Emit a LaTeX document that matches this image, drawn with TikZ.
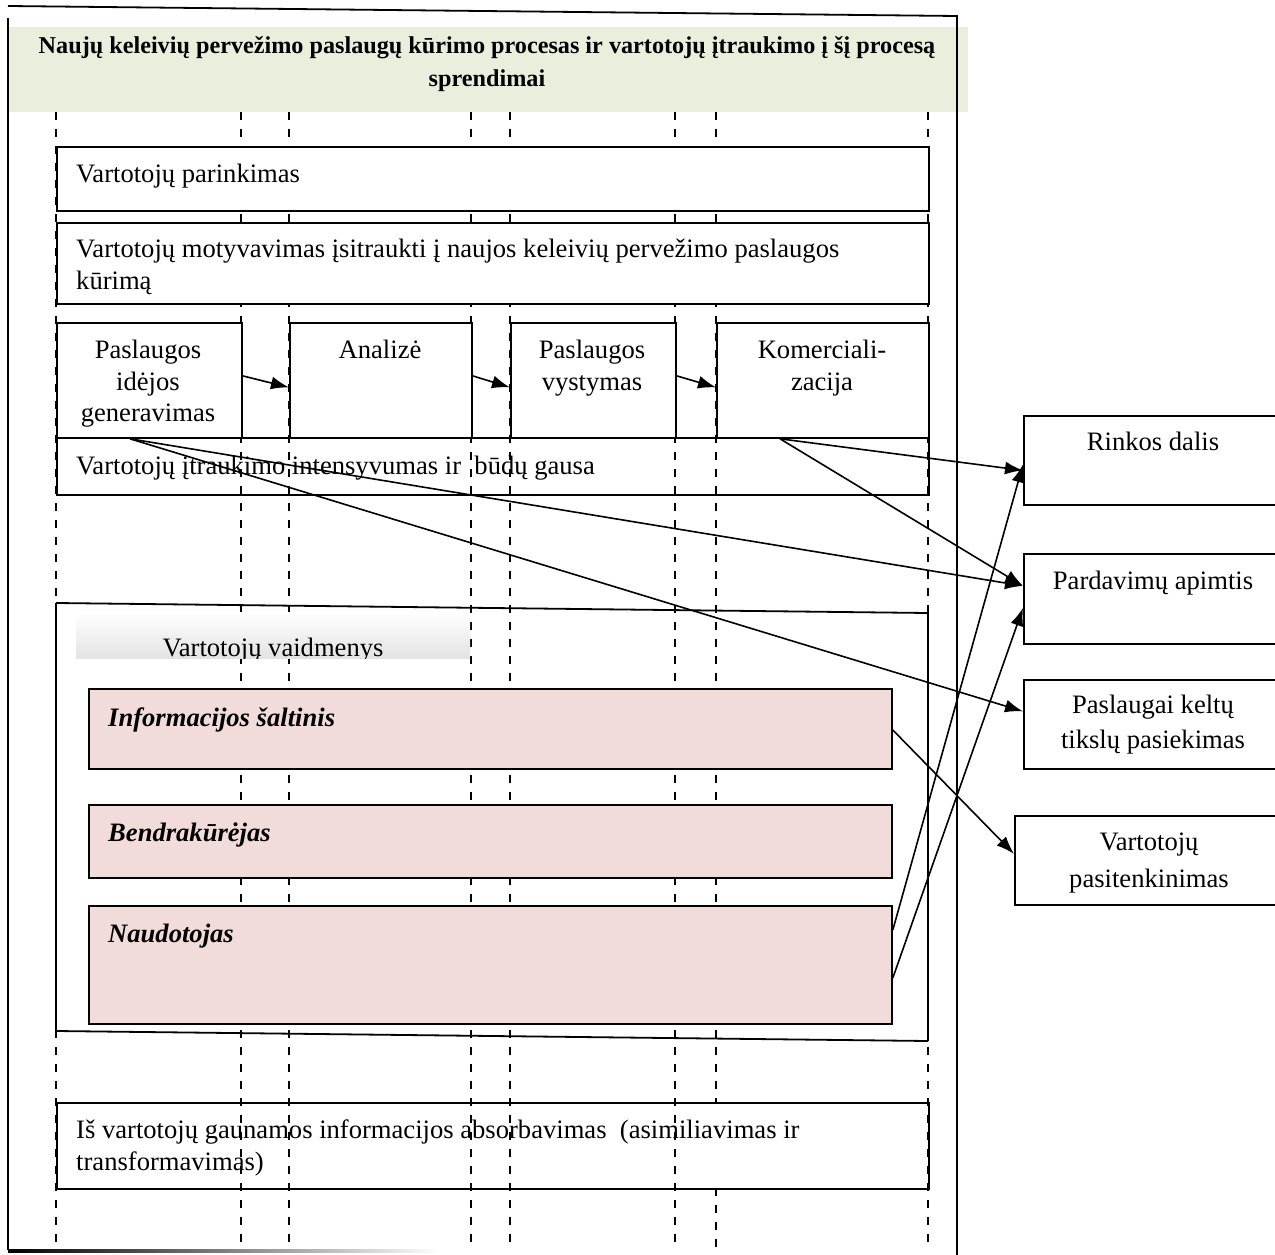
\documentclass[tikz,border=0pt]{standalone}
\usepackage{fontspec}
\setmainfont{Liberation Serif}
\usetikzlibrary{arrows.meta,calc}
\definecolor{titlegreen}{HTML}{E9EFDC}
\definecolor{rolepink}{HTML}{F2DCDB}
\begin{document}
\begin{tikzpicture}[x=1pt,y=-1pt,
  rule/.style={line width=1.8pt},
  lane/.style={line width=1.8pt, dash pattern=on 8pt off 9pt},
  panel/.style={draw, line width=1.8pt, fill=white, rectangle, inner sep=0pt, anchor=north west},
  openpanel/.style={panel, fill=none},
  rolebox/.style={panel, fill=rolepink},
  body/.style={font=\fontsize{26.6}{32}\selectfont, inner sep=0pt},
  roletext/.style={font=\fontsize{26.6}{32}\selectfont\bfseries\itshape, inner sep=0pt, anchor=base west},
  headtext/.style={font=\fontsize{24.2}{32}\selectfont\bfseries, inner sep=0pt, anchor=base},
  link/.style={line width=1.6pt, -{Latex[length=18pt,width=13pt]}},
]
\useasboundingbox (0,0) rectangle (1275,1255);

% heading band
\node[anchor=north west, fill=titlegreen, minimum width=960pt, minimum height=85pt, inner sep=0pt] (band) at (8,27) {};
\node[headtext] (head1) at (487,54) {Naujų keleivių pervežimo paslaugų kūrimo procesas ir vartotojų įtraukimo į šį procesą};
\node[headtext] (head2) at (487,86) {sprendimai};

% outer frame
\draw[rule] (8,6) -- (957,16) -- (957,1255);
\draw[rule] (8,18) -- (8,1250);
\shade[left color=black, right color=white] (8,1249) rectangle (440,1252);

% dashed lanes
\foreach \x in {56,241,289,471,510,675,928}
  \draw[lane] (\x,112) -- (\x,1250);
\draw[lane] (716,112) -- (716,1102);
\draw[lane] (716,1188) -- (716,1250);

% stacked stages
\node[panel, minimum width=872pt, minimum height=64pt] (select) at (56,146) {};
\node[body, anchor=base west] (selectT) at (76,182) {Vartotojų parinkimas};

\node[panel, minimum width=872pt, minimum height=81pt] (motiv) at (56,222) {};
\node[body, anchor=base west] (motivT1) at (76,257) {Vartotojų motyvavimas įsitraukti į naujos keleivių pervežimo paslaugos};
\node[body, anchor=base west] (motivT2) at (76,289) {kūrimą};

% process steps
\node[panel, minimum width=185pt, minimum height=115pt] (idea) at (56,322) {};
\node[panel, minimum width=182pt, minimum height=115pt] (anal) at (289,322) {};
\node[panel, minimum width=165pt, minimum height=115pt] (devel) at (510,322) {};
\node[panel, minimum width=212pt, minimum height=115pt] (comm) at (716,322) {};
\node[body, anchor=base] (ideaT1) at (148,358) {Paslaugos};
\node[body, anchor=base] (ideaT2) at (148,390) {idėjos};
\node[body, anchor=base] (ideaT3) at (148,421) {generavimas};
\node[body, anchor=base] (analT) at (380,358) {Analizė};
\node[body, anchor=base] (develT1) at (592,358) {Paslaugos};
\node[body, anchor=base] (develT2) at (592,390) {vystymas};
\node[body, anchor=base] (commT1) at (822,358) {Komerciali-};
\node[body, anchor=base] (commT2) at (822,390) {zacija};

\draw[link] ([yshift=4.5pt]idea.east) -- ([yshift=-7pt]anal.west);
\draw[link] ([yshift=4.5pt]anal.east) -- ([yshift=-7pt]devel.west);
\draw[link] ([yshift=4.5pt]devel.east) -- ([yshift=-7pt]comm.west);

% intensity band
\node[openpanel, minimum width=872pt, minimum height=57pt] (intens) at (56,437) {};
\node[body, anchor=base west] (intensT) at (76,474) {Vartotojų įtraukimo intensyvumas ir~ būdų gausa};

% roles container
\draw[rule] (56,603) -- (928,613) -- (928,1041);
\draw[rule] (56,603) -- (56,1031) -- (928,1041);
\node[anchor=north west, minimum width=394pt, minimum height=46pt, inner sep=0pt,
      top color=white, bottom color=black!11, draw=none] (rolehead) at (76,612) {};
\begin{scope}
  \clip (rolehead.south west) rectangle (rolehead.north east);
  \node[body, anchor=base] (roleheadT) at (273,656) {Vartotojų vaidmenys};
\end{scope}

\node[rolebox, minimum width=803pt, minimum height=80pt] (info) at (88,688) {};
\node[roletext] (infoT) at (108,726) {Informacijos šaltinis};
\node[rolebox, minimum width=803pt, minimum height=73pt] (cocr) at (88,804) {};
\node[roletext] (cocrT) at (108,841) {Bendrakūrėjas};
\node[rolebox, minimum width=803pt, minimum height=118pt] (user) at (88,905) {};
\node[roletext] (userT) at (108,942) {Naudotojas};

% absorption stage
\node[openpanel, minimum width=872pt, minimum height=86pt] (absorb) at (56,1102) {};
\node[body, anchor=base west] (absorbT1) at (76,1138) {Iš vartotojų gaunamos informacijos absorbavimas~ (asimiliavimas ir};
\node[body, anchor=base west] (absorbT2) at (76,1170) {transformavimas)};

% outcomes
\node[panel, minimum width=260pt, minimum height=89pt] (share) at (1023,415) {};
\node[body, anchor=base] (shareT) at (1153,450) {Rinkos dalis};
\node[panel, minimum width=260pt, minimum height=90pt] (sales) at (1023,553) {};
\node[body, anchor=base] (salesT) at (1153,589) {Pardavimų apimtis};
\node[panel, minimum width=260pt, minimum height=89pt] (goals) at (1023,679) {};
\node[body, anchor=base] (goalsT1) at (1153,713) {Paslaugai keltų};
\node[body, anchor=base] (goalsT2) at (1153,748) {tikslų pasiekimas};
\node[panel, minimum width=270pt, minimum height=89pt] (satis) at (1014,815) {};
\node[body, anchor=base] (satisT1) at (1149,850) {Vartotojų};
\node[body, anchor=base] (satisT2) at (1149,887) {pasitenkinimas};

% effects
\draw[link] ([xshift=74pt]idea.south west) -- ([yshift=13pt]sales.west);
\draw[link] ([xshift=74pt]idea.south west) -- ([yshift=13pt]goals.west);
\draw[link] ([xshift=64pt]comm.south west) -- ([yshift=-10pt]share.west);
\draw[link] ([xshift=64pt]comm.south west) -- ([yshift=13pt]sales.west);
\draw[link] ([yshift=-25pt]user.north east) -- ([yshift=-4pt]share.west);
\draw[link] ([yshift=-73pt]user.north east) -- ([yshift=-9pt]sales.west);
\draw[link] ([yshift=-42pt]info.north east) -- ([yshift=6.5pt]satis.west);
\end{tikzpicture}
\end{document}
